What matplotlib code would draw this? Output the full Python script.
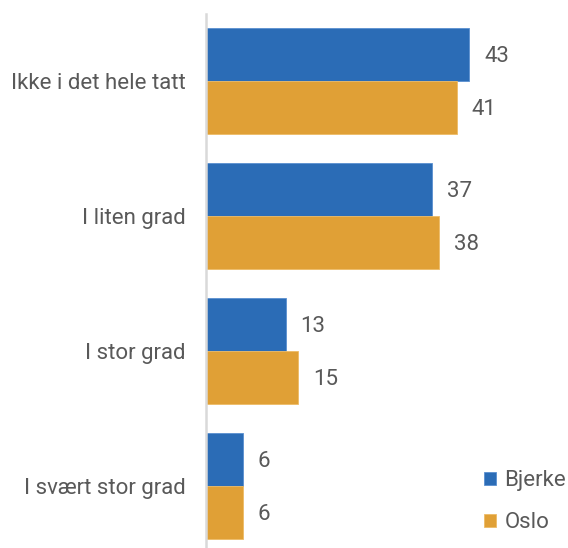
import matplotlib
matplotlib.use("Agg")
import matplotlib.pyplot as plt
import numpy as np

categories = ["Ikke i det hele tatt", "I liten grad", "I stor grad", "I svært stor grad"]
series_names = ["Bjerke", "Oslo"]
bjerke = [43, 37, 13, 6]
oslo = [41, 38, 15, 6]

colors = ["#2b6cb6", "#e0a036"]
text_color = "#595959"

plt.rcParams['font.family'] = ['Roboto', 'DejaVu Sans']

W, H = 568, 548
fig = plt.figure(figsize=(W / 100, H / 100), dpi=100)
ax_left = 206 / W
ax = fig.add_axes([ax_left, 0, 1 - ax_left, 1 - 14 / H])

px_per_unit = 6.12
ax.set_xlim(0, (W - 206) / px_per_unit)
spacing = 135.0
ax.set_ylim(3 + (548 - 486) / spacing, -(81 - 14) / spacing)

y = np.arange(len(categories))
h = 53 / spacing
b1 = ax.barh(y - h / 2, bjerke, height=h, color=colors[0], label=series_names[0],
             edgecolor="#5a8fd0", linewidth=0.6)
b2 = ax.barh(y + h / 2, oslo, height=h, color=colors[1], label=series_names[1],
             edgecolor="#edbb66", linewidth=0.6)

fs = 16
for bars, vals in ((b1, bjerke), (b2, oslo)):
    for rect, v in zip(bars, vals):
        ax.text(v + 15 / px_per_unit, rect.get_y() + rect.get_height() / 2 + 2 / spacing, str(v),
                ha="left", va="center", fontsize=fs, color=text_color)

ax.set_yticks(y)
ax.set_yticklabels(categories, fontsize=fs, color=text_color)
ax.tick_params(axis="y", length=0, pad=14.5)
ax.set_xticks([])
for s in ("top", "right", "bottom"):
    ax.spines[s].set_visible(False)
ax.spines["left"].set_color("#d9d9d9")
ax.spines["left"].set_linewidth(1.8)

leg = ax.legend(loc="lower right", bbox_to_anchor=(1.0 + 8 / 362, 0.005 + 2 / 534), frameon=False,
                fontsize=fs, handlelength=0.55, handleheight=0.55, handletextpad=0.35,
                labelspacing=0.95, borderaxespad=0.05)
for t in leg.get_texts():
    t.set_color(text_color)

fig.savefig("out.png", dpi=100)
